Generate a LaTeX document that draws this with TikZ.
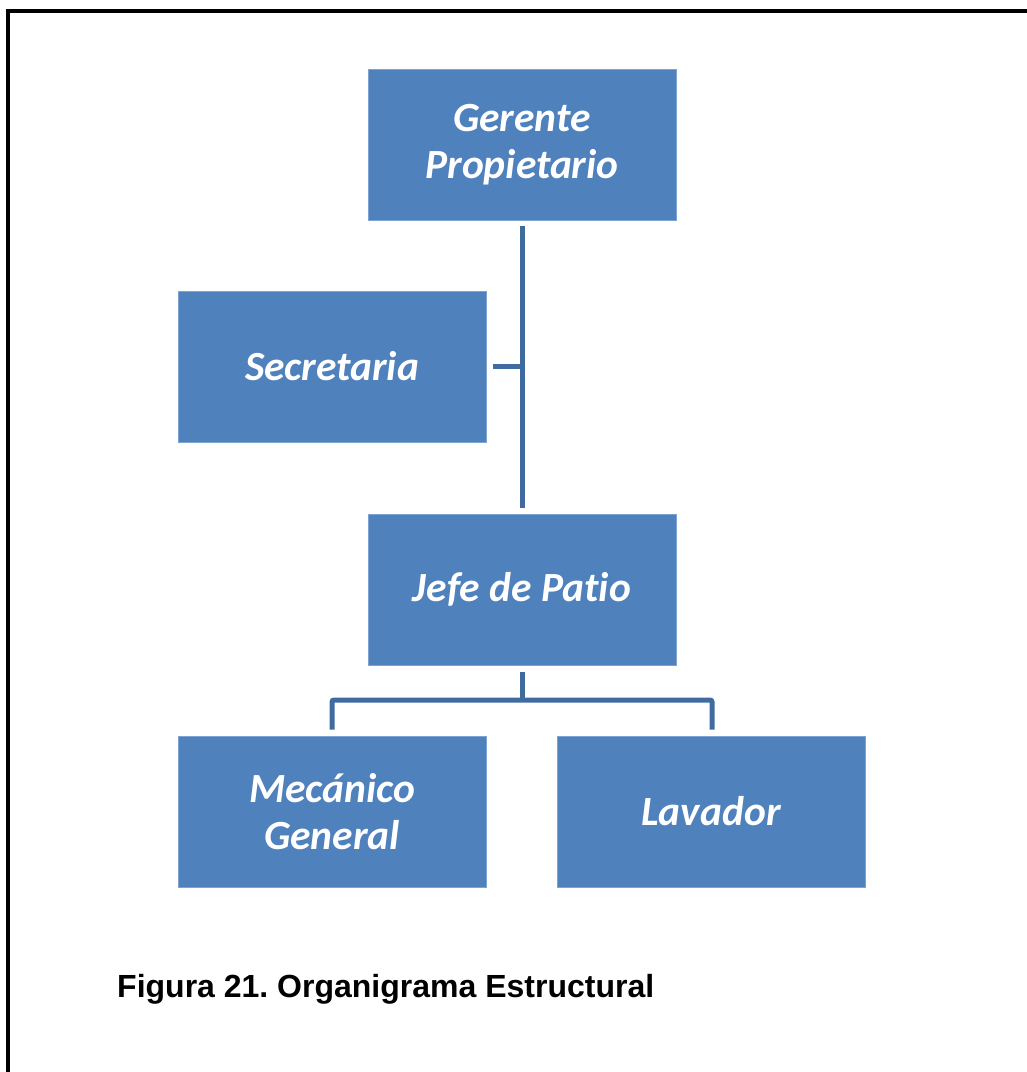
\documentclass[tikz,border=0pt]{standalone}
\usepackage{fontspec}
\setmainfont{Carlito}[Ligatures=NoCommon]
\newfontfamily\capfont{Liberation Sans}
\usetikzlibrary{calc}
\definecolor{boxblue}{HTML}{4F81BD}
\definecolor{boxedge}{HTML}{7EA2D1}
\definecolor{linkblue}{HTML}{3F6B9F}
\frenchspacing
\begin{document}
\begin{tikzpicture}[x=1pt,y=-1pt,
  orgbox/.style={rectangle, fill=boxblue, draw=boxedge, line width=1pt,
    minimum width=308pt, minimum height=151pt, inner sep=0pt,
    align=center, text=white,
    font=\fontsize{41.5}{47}\selectfont\bfseries\itshape},
  conn/.style={draw=linkblue, line width=5pt}]
\useasboundingbox (0,0) rectangle (1027,1072);
\draw[line width=3.5pt, line cap=rect] (1030,11) -- (8,11) -- (8,1075);
\node[orgbox] (ger) at (522,144.5) {Gerente\\Propietario};
\node[orgbox] (sec) at (332,366.5) {Secretaria};
\node[orgbox] (jefe) at (522,589.5) {Jefe de Patio};
\node[orgbox] (mec) at (332,811.5) {Mecánico\\General};
\node[orgbox] (lav) at (711,811.5) {Lavador};
\draw[conn, shorten <=5pt, shorten >=6pt] (ger.south) -- (jefe.north);
\draw[conn, shorten <=6pt] (sec.east) -- (sec.east -| ger.south);
\coordinate (bus) at (522,700);
\draw[conn, shorten <=6pt] (jefe.south) -- (bus);
\draw[conn, rounded corners=2pt] ($(mec.north)+(0,-6)$) |- (bus) -| ($(lav.north)+(1,-6)$);
\node[anchor=base west, inner sep=0pt, font=\capfont\bfseries\fontsize{32}{40}\selectfont] (cap) at (117,997) {Figura 21. Organigrama Estructural};
\end{tikzpicture}
\end{document}
